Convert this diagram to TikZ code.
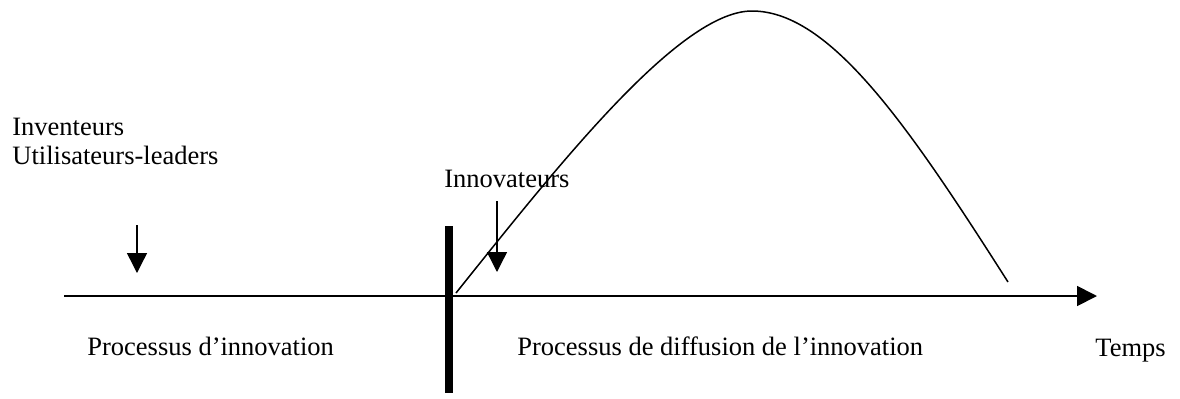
\documentclass[tikz,border=0pt]{standalone}
\usepackage{fontspec}
\setmainfont{Liberation Serif}
\usetikzlibrary{
	arrows.meta,
	positioning
}
\tikzset{
	texte/.style={
		anchor=base west,
		inner sep=0pt,
		align=left,
		font=\fontsize{13.25}{14.5}\selectfont
	},
	fleche/.style={
		-{Triangle[length=10pt,width=10pt]},
		line width=0.7pt
	},
	axe/.style={
		-{Triangle[length=10pt,width=10pt]},
		line width=0.9pt
	},
	courbe/.style={
		line width=0.75pt
	},
	barre/.style={
		fill=black
	}
}

\begin{document}
\begin{tikzpicture}[x=0.5pt, y=-0.5pt]
		\useasboundingbox (0,0) rectangle (1180,398);
		% textes
		\node[texte] (acteurs) at (12,164) {Inventeurs\\Utilisateurs-leaders};
		\node[texte] (innov) at (444,187) {Innovateurs};
		\node[texte] (procA) at (87,355) {Processus d’innovation};
		\node[texte] (procB) at (517,355) {Processus de diffusion de l’innovation};
		\node[texte] (temps) at (1095,356) {Temps};
		% points
		\coordinate (debut) at (64,296);
		\coordinate (fin) at (1097,296);
		\coordinate (f1a) at (137,225);
		\coordinate (f1b) at (137,273);
		\coordinate (f2a) at (497,201);
		\coordinate (f2b) at (497,272);
		\coordinate (barreH) at (445,226);
		\coordinate (barreB) at (453,393);
		\coordinate (c0) at (456,293);
		\coordinate (sommet) at (752,11);
		\coordinate (c1) at (1008,282);
		% dessin
		\draw[axe] (debut) -- (fin);
		\fill[barre] (barreH) rectangle (barreB);
		\draw[fleche] (f1a) -- (f1b);
		\draw[fleche] (f2a) -- (f2b);
		\draw[courbe] (c0) .. controls (560,163) and (680,11) .. (sommet)
			.. controls (830,11) and (908,125) .. (c1);
	\end{tikzpicture}
\end{document}
